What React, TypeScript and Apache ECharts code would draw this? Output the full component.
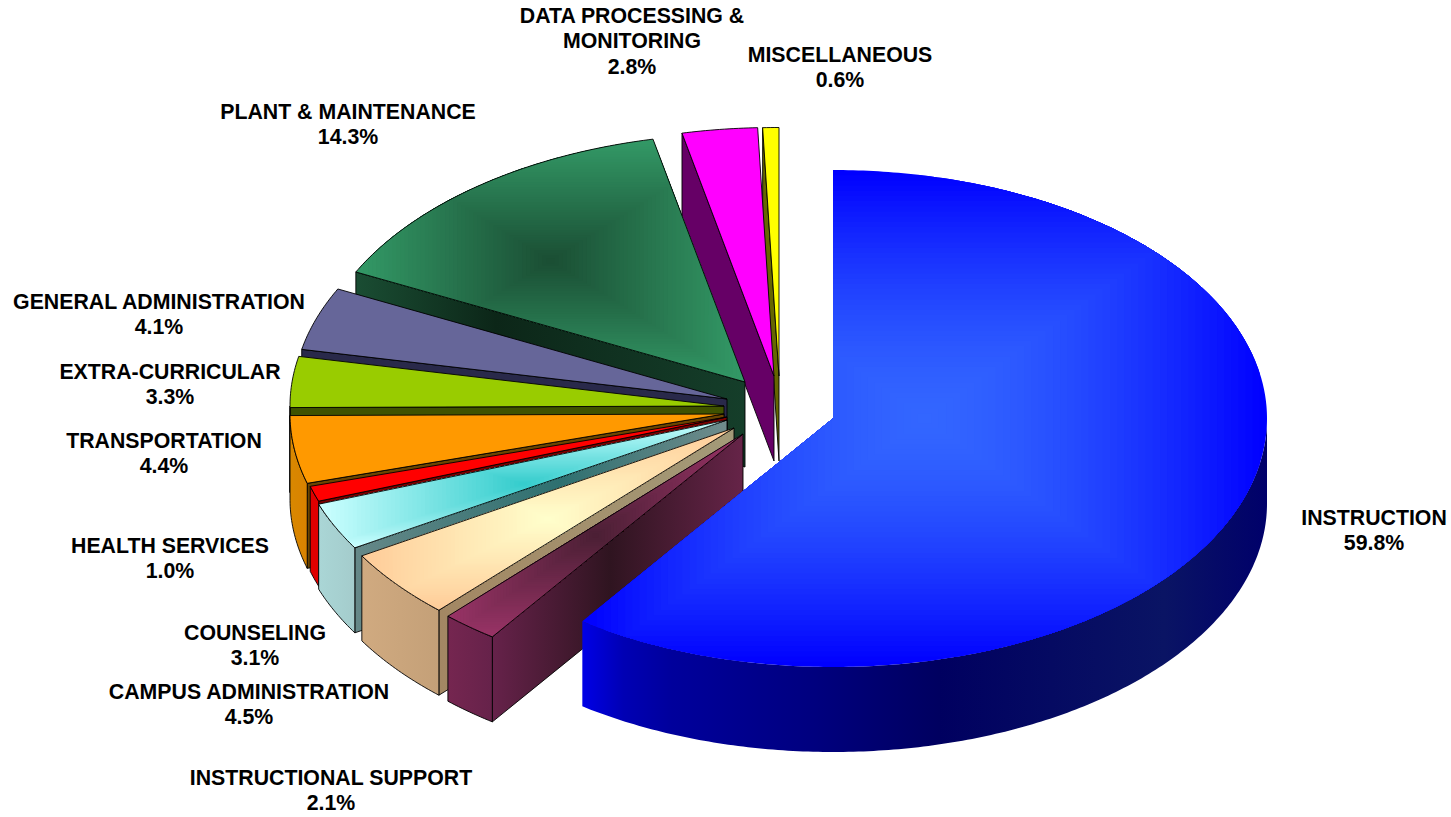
import React, { useEffect, useRef } from "react";
import * as echarts from "echarts";

const categories = [
  "INSTRUCTION",
  "INSTRUCTIONAL SUPPORT",
  "CAMPUS ADMINISTRATION",
  "COUNSELING",
  "HEALTH SERVICES",
  "TRANSPORTATION",
  "EXTRA-CURRICULAR",
  "GENERAL ADMINISTRATION",
  "PLANT & MAINTENANCE",
  "DATA PROCESSING & MONITORING",
  "MISCELLANEOUS",
];
const shares = [59.8, 2.1, 4.5, 3.1, 1.0, 4.4, 3.3, 4.1, 14.3, 2.8, 0.6];

// Layout of the exploded pie (not data)
const RX = 434;
const RY = 248.5;
const DEPTH = 85;
const apexes: [number, number][] = [
  [833, 418.5], [743, 434], [734, 428], [727, 420], [727, 417], [724, 414],
  [724, 406], [727, 399], [745, 382], [774, 376], [779, 376],
];
const labelLines = [
  ["INSTRUCTION"],
  ["INSTRUCTIONAL SUPPORT"],
  ["CAMPUS ADMINISTRATION"],
  ["COUNSELING"],
  ["HEALTH SERVICES"],
  ["TRANSPORTATION"],
  ["EXTRA-CURRICULAR"],
  ["GENERAL ADMINISTRATION"],
  ["PLANT & MAINTENANCE"],
  ["DATA PROCESSING &", "MONITORING"],
  ["MISCELLANEOUS"],
];
const labelPos: [number, number][] = [
  [1374, 505.5], [331, 765.5], [249, 679.5], [255, 620.5], [170, 533.5], [164, 428.5],
  [170, 359.5], [159, 289.5], [348, 99.5], [632, 3.5], [840, 42.5],
];

// [colour at the centre of the slice's box, colour at the box's edge, falloff]
const topPaint: [string, string, number][] = [
  ["#3366ff", "#0000ff", 1.6],
  ["#4a1f34", "#993366", 1],
  ["#ffffcc", "#ffcc99", 1],
  ["#33cccc", "#ccffff", 1],
  ["#ff0000", "#ff0000", 1],
  ["#ff9900", "#ff9900", 1],
  ["#99cc00", "#99cc00", 1],
  ["#666699", "#666699", 1],
  ["#1a4d33", "#339966", 1],
  ["#ff00ff", "#ff00ff", 1],
  ["#ffff00", "#ffff00", 1],
];
const outerWall: [number, string][][] = [
  [[0, "#0000e6"], [0.06, "#0000b4"], [0.13, "#00009c"], [0.33, "#000080"], [0.52, "#000060"], [0.85, "#0a1464"], [1, "#00006a"]],
  [[0, "#752650"], [1, "#66224a"]],
  [[0, "#d0aa80"], [1, "#c4a078"]],
  [[0, "#aad6d6"], [1, "#a4cccc"]],
  [[0, "#e00000"], [1, "#e00000"]],
  [[0, "#d98800"], [1, "#d98200"]],
  [[0, "#6b8a00"], [1, "#6b8a00"]],
  [[0, "#2a2a4d"], [1, "#2a2a4d"]],
  [[0, "#133d2a"], [1, "#133d2a"]],
  [[0, "#660066"], [1, "#660066"]],
  [[0, "#666600"], [1, "#666600"]],
];
const radialWall: [number, string][][] = [
  [[0, "#0000ff"], [1, "#0000ff"]],
  [[0, "#66224a"], [0.47, "#2f1420"], [1, "#662448"]],
  [[0, "#a38763"], [1, "#a39a78"]],
  [[0, "#668888"], [0.55, "#2e7070"], [1, "#708c8c"]],
  [[0, "#7a0000"], [1, "#7a0000"]],
  [[0, "#6b4500"], [1, "#6b4500"]],
  [[0, "#3f5200"], [1, "#3f5200"]],
  [[0, "#29294a"], [1, "#29294a"]],
  [[0, "#1a4d33"], [0.36, "#0c2618"], [1, "#153e2a"]],
  [[0, "#660066"], [1, "#660066"]],
  [[0, "#666600"], [1, "#666600"]],
];

const drawOrder = [10, 9, 8, 7, 6, 5, 4, 3, 2, 1, 0];

const toStops = (s: [number, string][]) => s.map(([offset, color]) => ({ offset, color }));

type P = [number, number];

// Clip a polygon to a box (Sutherland-Hodgman)
function clipToBox(poly: P[], x0: number, x1: number, y0: number, y1: number): P[] {
  const edges: [(p: P) => boolean, (a: P, b: P) => P][] = [
    [(p) => p[0] >= x0, (a, b) => [x0, a[1] + ((b[1] - a[1]) * (x0 - a[0])) / (b[0] - a[0])]],
    [(p) => p[0] <= x1, (a, b) => [x1, a[1] + ((b[1] - a[1]) * (x1 - a[0])) / (b[0] - a[0])]],
    [(p) => p[1] >= y0, (a, b) => [a[0] + ((b[0] - a[0]) * (y0 - a[1])) / (b[1] - a[1]), y0]],
    [(p) => p[1] <= y1, (a, b) => [a[0] + ((b[0] - a[0]) * (y1 - a[1])) / (b[1] - a[1]), y1]],
  ];
  let out = poly;
  for (const [inside, cross] of edges) {
    const cur = out;
    out = [];
    for (let i = 0; i < cur.length; i++) {
      const a = cur[i];
      const b = cur[(i + 1) % cur.length];
      const ia = inside(a);
      const ib = inside(b);
      if (ia) out.push(a);
      if (ia !== ib) out.push(cross(a, b));
    }
    if (!out.length) return out;
  }
  return out;
}

const hex = (c: string) => [1, 3, 5].map((i) => parseInt(c.slice(i, i + 2), 16));
const mix = (a: string, b: string, t: number) => {
  const ca = hex(a);
  const cb = hex(b);
  return `rgb(${ca.map((v, i) => Math.round(v + (cb[i] - v) * t)).join(",")})`;
};

function buildOption() {
  const total = shares.reduce((a, b) => a + b, 0);
  const starts: number[] = [];
  let acc = 0;
  shares.forEach((v) => {
    starts.push(acc);
    acc += v;
  });
  const pt = (cx: number, cy: number, deg: number): P => {
    const a = (deg * Math.PI) / 180;
    return [cx + RX * Math.sin(a), cy - RY * Math.cos(a)];
  };

  const renderItem = (params: any, api: any) => {
    const i = drawOrder[params.dataIndex];
    const value = api.value(0) as number;
    const a0 = (starts[i] / total) * 360;
    const a1 = a0 + (value / total) * 360;
    const [cx, cy] = apexes[i];
    const arc: P[] = [];
    const n = Math.max(2, Math.ceil((a1 - a0) * 1.5));
    for (let k = 0; k <= n; k++) arc.push(pt(cx, cy, a0 + ((a1 - a0) * k) / n));

    const base = (params.dataIndex + 1) * 10;
    const strokeColor = i === 0 ? "none" : "#000000";
    const lw = i === 0 ? 0 : 0.9;
    const children: any[] = [];

    // radial wall on the leading edge
    const s = arc[0];
    const minX = Math.min(s[0], cx);
    const maxX = Math.max(s[0], cx);
    if (i !== 0) {
      children.push({
        type: "polygon",
        silent: true,
        z2: base,
        shape: { points: [[cx, cy], s, [s[0], s[1] + DEPTH], [cx, cy + DEPTH]] },
        style: {
          fill: new echarts.graphic.LinearGradient(minX, 0, maxX, 0, toStops(radialWall[i]), true),
          stroke: strokeColor,
          lineWidth: lw,
        },
      });
    }

    // outer wall: the part of the rim facing the viewer
    const wa0 = Math.max(a0, 90);
    const wa1 = Math.min(a1, 270);
    if (wa1 > wa0) {
      const rim: P[] = [];
      const m = Math.max(2, Math.ceil((wa1 - wa0) * 1.5));
      for (let k = 0; k <= m; k++) rim.push(pt(cx, cy, wa0 + ((wa1 - wa0) * k) / m));
      const xs = rim.map((p) => p[0]);
      const low = rim.map((p): P => [p[0], p[1] + DEPTH]).reverse();
      children.push({
        type: "polygon",
        silent: true,
        z2: base + 1,
        shape: { points: [...rim, ...low] },
        style: {
          fill: new echarts.graphic.LinearGradient(
            Math.min(...xs), 0, Math.max(...xs), 0, toStops(outerWall[i]), true
          ),
          stroke: strokeColor,
          lineWidth: lw,
        },
      });
    }

    // top face: colour runs from the edge of its bounding box to the box's centre
    const face: P[] = [[cx, cy], ...arc];
    const [centre, edge, falloff] = topPaint[i];
    const fx = face.map((p) => p[0]);
    const fy = face.map((p) => p[1]);
    const bx0 = Math.min(...fx);
    const bx1 = Math.max(...fx);
    const by0 = Math.min(...fy);
    const by1 = Math.max(...fy);
    const mx = (bx0 + bx1) / 2;
    const my = (by0 + by1) / 2;
    const steps = centre === edge ? 1 : 48;
    for (let k = 0; k < steps; k++) {
      const t = 1 - k / steps;
      const points =
        k === 0
          ? face
          : clipToBox(
              face,
              mx - ((bx1 - bx0) / 2) * t,
              mx + ((bx1 - bx0) / 2) * t,
              my - ((by1 - by0) / 2) * t,
              my + ((by1 - by0) / 2) * t
            );
      if (points.length < 3) continue;
      children.push({
        type: "polygon",
        silent: true,
        z2: base + 2 + k / 100,
        shape: { points },
        style: { fill: mix(edge, centre, 1 - Math.pow(t, falloff)) },
      });
    }
    if (i !== 0) {
      children.push({
        type: "polygon",
        silent: true,
        z2: base + 3,
        shape: { points: face },
        style: { fill: "none", stroke: strokeColor, lineWidth: lw },
      });
    }

    // label
    const lines = [...labelLines[i], `${value.toFixed(1)}%`];
    const [lx, ly] = labelPos[i];
    children.push({
      type: "text",
      silent: true,
      z2: 500,
      x: lx,
      y: ly,
      style: {
        text: lines.join("\n"),
        fill: "#000000",
        font: 'bold 21.3px "Liberation Sans", Arial, sans-serif',
        lineHeight: 25.2,
        align: "center",
        verticalAlign: "top",
      },
    });
    return { type: "group", children };
  };

  return {
    animation: false,
    backgroundColor: "#ffffff",
    series: [
      {
        type: "custom",
        coordinateSystem: "none",
        clip: false,
        renderItem,
        data: drawOrder.map((i) => ({ name: categories[i], value: [shares[i]] })),
      },
    ],
  };
}

export default function App() {
  const ref = useRef<HTMLDivElement>(null);
  useEffect(() => {
    document.body.style.margin = "0";
    const chart = echarts.init(ref.current!, undefined, { renderer: "svg" });
    chart.setOption(buildOption() as any);
    return () => chart.dispose();
  }, []);
  return <div ref={ref} style={{ width: 1451, height: 817 }} />;
}
